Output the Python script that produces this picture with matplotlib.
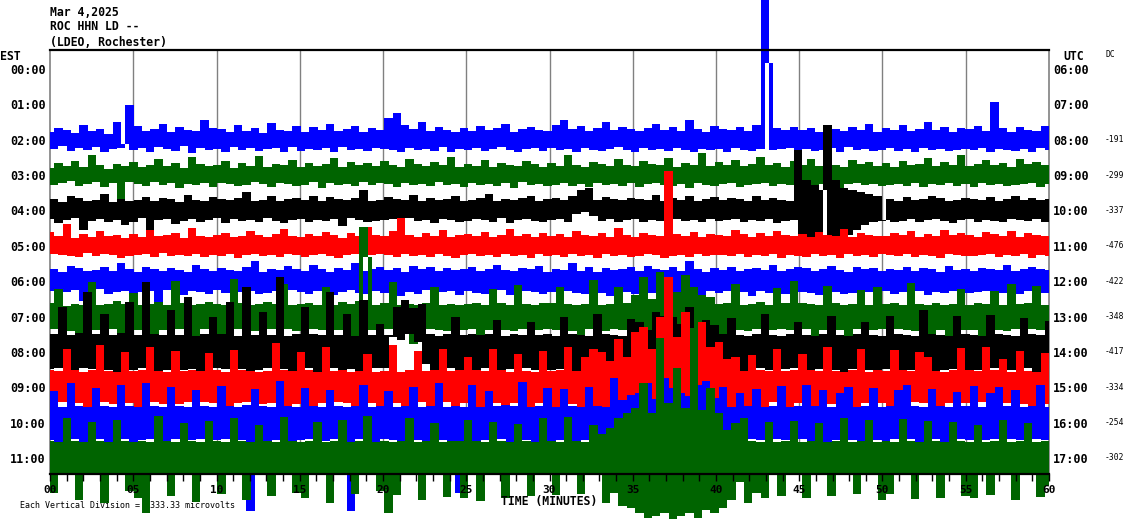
import numpy as np
import matplotlib
matplotlib.use("Agg")
import matplotlib.pyplot as plt
from matplotlib.ticker import MultipleLocator

# ---------------- data ----------------
date_text = "Mar 4,2025"
station_text = "ROC HHN LD --"
network_text = "(LDEO, Rochester)"
est_labels = ["00:00", "01:00", "02:00", "03:00", "04:00", "05:00",
              "06:00", "07:00", "08:00", "09:00", "10:00", "11:00"]
utc_labels = ["06:00", "07:00", "08:00", "09:00", "10:00", "11:00",
              "12:00", "13:00", "14:00", "15:00", "16:00", "17:00"]
minute_labels = ["00", "05", "10", "15", "20", "25", "30",
                 "35", "40", "45", "50", "55", "60"]
dc_rows = [2, 3, 4, 5, 6, 7, 8, 9, 10, 11]
dc_values = [-191, -299, -337, -476, -422, -348, -417, -334, -254, -302]
row_colors = ["black", "red", "blue", "#006400"]  # cycle by hour row
scale_text = "Each Vertical Division =  333.33 microvolts"

# trace samples (amplitude, positive = up), 4 samples per minute
trace_02 = [8,-9,12,-6,10,-11,7,-8,15,-10,9,-7,11,-12,6,-9,18,-8,-4,35,
            -10,14,-8,9,-12,11,-7,16,-9,8,-11,13,-6,10,-13,9,-8,20,-10,12,
            -9,11,-12,8,-7,15,-10,9,-8,12,-11,7,-9,17,-8,10,-12,9,-7,14,
            -11,8,-9,13,-10,10,-8,16,-12,9,-7,11,-10,14,-9,8,-11,12,-8,10,
            -9,22,-10,27,-12,15,-8,11,-10,18,-9,9,-11,13,-7,10,-12,8,-9,12,
            -10,9,-8,14,-11,10,-9,12,-7,16,-10,8,-12,11,-9,13,-8,10,-11,9,
            -8,15,-10,20,-9,11,-12,14,-8,9,-10,12,-11,18,-9,10,-7,13,-10,11,
            -12,9,-8,12,-10,16,-9,10,-11,13,-8,9,-10,20,-12,11,-9,8,-10,14,
            -9,11,-12,10,-8,13,-10,9,-11,15,-9,140,77,-10,12,-9,10,-8,13,-11,
            10,-9,12,-11,8,-10,14,-8,11,-12,9,-7,13,-10,10,-9,16,-11,8,-10,
            12,-8,10,-11,15,-9,9,-12,11,-8,18,-10,10,-9,13,-11,8,-10,12,-9,
            11,-10,14,-8,9,-12,38,-9,12,-10,8,-11,13,-9,10,-12,9,-8,14,-10]
trace_03 = [7,-10,12,-8,9,-6,14,-11,8,-9,20,-7,10,-12,6,-8,11,-25,9,-7,
            13,-9,8,-11,10,-7,16,-10,9,-8,12,-13,7,-9,18,-10,11,-8,9,-12,
            10,-8,14,-9,7,-11,12,-10,9,-7,19,-9,8,-12,11,-8,10,-9,15,-11,
            8,-10,12,-7,9,-13,11,-8,17,-10,8,-9,13,-11,10,-7,12,-10,9,-8,
            14,-9,10,-12,8,-8,16,-10,11,-9,9,-11,13,-7,10,-10,18,-9,8,-12,
            11,-8,9,-10,15,-9,8,-11,12,-8,10,-13,9,-7,14,-10,11,-9,8,-11,
            12,-10,9,-8,20,-11,10,-9,8,-12,13,-8,11,-10,9,-9,16,-11,10,-8,
            9,-12,14,-9,11,-8,10,-10,17,-11,8,-9,12,-13,10,-8,22,-10,9,-11,
            13,-9,10,-8,15,-12,9,-10,11,-9,18,-8,10,-11,12,-9,8,-10,14,-12,
            10,-8,16,-11,9,-9,12,-10,10,-13,8,-9,15,-8,11,-10,13,-9,9,-11,
            12,-10,8,-9,14,-11,10,-8,11,-12,17,-9,9,-10,13,-8,10,-11,20,-9,
            9,-12,11,-8,15,-10,10,-9,12,-11,8,-10,16,-9,11,-8,13,-12,10,-9]
trace_04 = [-9,11,-13,8,-10,14,-8,12,-20,9,-11,10,-9,16,-12,8,-10,11,-15,9,
            -12,10,-8,13,-22,9,-10,12,-9,11,-14,8,-11,15,-9,10,-12,9,-10,13,
            -8,11,-13,10,-9,12,-11,18,-10,9,-12,10,-8,14,-11,9,-13,11,-10,12,
            -9,10,-12,14,-10,9,-11,13,-9,11,-16,10,-8,12,-10,20,-12,9,-11,10,
            -10,13,-9,11,-12,10,-8,15,-11,9,-10,12,-13,10,-9,11,-10,14,-12,9,
            -11,10,-9,12,-10,16,-12,9,-8,11,-13,10,-10,12,-9,14,-11,9,-12,11,
            -10,12,-9,10,-12,14,-4,20,-2,22,-6,10,-11,13,-9,11,-12,10,-10,12,
            -9,11,-12,10,-10,15,-11,9,-13,12,-9,10,-11,14,-10,9,-12,11,-9,13,
            -11,10,-10,12,-9,11,-12,9,-10,14,-11,10,-9,12,-13,10,-11,9,-10,60,
            -25,30,-40,25,-30,20,85,-35,30,-28,22,-25,20,-20,18,-15,16,-12,14,-11,
            -10,11,-12,9,-11,13,-9,10,-12,11,-10,14,-9,12,-11,9,-13,10,-10,12,
            -9,11,-12,10,-10,13,-11,9,-12,11,-9,14,-10,10,-11,12,-9,10,-12,11]
trace_05 = [14,-8,10,-9,22,-10,8,-11,12,-7,9,-10,15,-8,10,-9,11,-12,8,-10,
            12,-9,9,-8,16,-11,10,-7,11,-10,13,-9,8,-10,18,-8,10,-11,9,-9,
            11,-10,13,-8,9,-12,10,-9,15,-8,11,-10,9,-9,12,-11,17,-8,10,-9,
            9,-11,12,-9,10,-8,14,-10,11,-12,8,-9,13,-8,10,-10,19,-9,11,-8,
            10,-9,15,-11,28,-8,11,-10,9,-9,13,-11,10,-8,16,-10,9,-12,11,-9,
            12,-8,10,-10,14,-9,9,-11,11,-8,17,-10,10,-9,12,-12,9,-8,13,-10,
            10,-9,12,-11,9,-8,15,-10,11,-9,10,-12,13,-8,9,-10,18,-9,11,-11,
            9,-10,13,-8,11,-9,10,-12,75,-10,12,-9,10,-11,14,-8,9,-10,12,-9,
            11,-9,10,-10,16,-8,12,-11,9,-9,13,-10,10,-8,15,-12,11,-9,10,-10,
            12,-11,9,-8,14,-10,11,-9,10,-12,17,-8,9,-10,13,-9,11,-11,10,-8,
            10,-9,13,-10,11,-8,15,-11,9,-9,12,-10,10,-12,16,-8,11,-9,13,-10,
            11,-10,9,-9,14,-8,12,-11,10,-9,15,-10,9,-8,13,-12,11,-9,10,-10]
trace_06 = [-10,12,-14,9,-11,15,-9,13,-20,10,-12,11,-8,14,-13,10,-11,18,-10,12,
            -13,9,-11,14,-10,12,-22,10,-9,13,-12,11,-14,9,-10,16,-11,12,-13,10,
            -9,13,-12,11,-15,10,-11,14,-10,20,-13,9,-12,12,-10,11,-14,15,-9,12,
            -11,10,-13,16,-10,12,-12,9,-14,13,-11,11,-9,18,-12,10,-13,12,-10,14,
            -12,11,-10,13,-15,9,-11,15,-13,12,-9,14,-12,10,-11,13,-10,11,-14,12,
            -10,14,-12,10,-13,12,-11,16,-9,11,-14,10,-12,13,-10,12,-11,15,-13,9,
            -11,12,-14,11,-10,18,-12,10,-13,14,-11,9,-12,13,-15,11,-10,12,-11,14,
            -13,10,-11,15,-12,12,-24,11,-10,14,-13,10,-12,20,-11,12,-14,9,-10,13,
            -12,11,-10,14,-13,10,-11,12,-15,13,-10,11,-12,16,-11,10,-13,12,-9,14,
            -11,13,-12,10,-14,12,-10,15,-11,11,-13,9,-12,14,-10,12,-11,13,-14,10,
            -10,12,-13,11,-11,14,-12,10,-10,13,-14,12,-11,9,-12,15,-10,11,-13,12,
            -12,10,-11,13,-10,12,-14,11,-12,16,-11,10,-13,12,-10,14,-11,12,-12,11]
trace_07 = [14,-12,28,-13,11,-14,13,-30,12,-11,35,-13,12,-14,13,-12,16,-33,13,-12,
            24,-13,12,-14,13,-28,15,-13,12,-11,36,-12,14,-13,12,-30,13,-12,15,-13,
            13,-26,12,-13,38,-12,14,-13,12,-14,13,-30,15,-12,13,-13,33,-12,12,-14,
            13,-28,14,-12,12,-13,30,-14,12,-13,15,-12,13,-33,16,90,60,-13,12,-14,
            14,-12,35,-13,12,-14,13,-27,12,-13,14,-12,30,-13,12,-14,13,-35,12,-13,
            13,-12,14,-30,12,-13,28,-12,14,-13,12,-14,32,-12,13,-26,12,-13,14,-12,
            14,-13,30,-12,13,-14,12,-28,13,-12,37,-13,12,-14,13,-12,30,-13,14,-12,
            22,-17,40,-20,18,-35,45,-16,20,-38,25,-14,42,-22,30,-15,22,-40,20,-14,
            13,-28,14,-12,33,-13,12,-14,13,-12,15,-32,12,-13,29,-12,14,-13,36,-12,
            14,-12,13,-25,12,-13,31,-12,14,-13,12,-30,13,-12,27,-14,12,-13,30,-12,
            13,-27,14,-12,12,-13,34,-14,13,-12,12,-28,14,-13,12,-33,13,-12,28,-13,
            12,-13,14,-30,13,-12,26,-13,12,-14,33,-12,13,-28,14,-12,31,-13,12,-14]
trace_08 = [-17,18,-16,45,-18,17,-30,19,-16,60,-17,18,-16,38,-18,17,-35,19,-16,50,
            -18,17,-16,70,-17,18,-30,17,-18,42,-16,17,-18,55,-17,16,-38,18,-17,35,
            -16,18,-17,50,-18,16,-17,65,-35,17,-18,40,-16,17,-18,75,-17,16,-33,18,
            -17,45,-16,18,-30,17,-18,60,-16,17,-18,38,-17,16,-35,52,-18,17,-16,28,
            -16,17,15,45,12,52,18,44,10,48,-12,18,-30,16,-17,18,-16,35,-18,17,
            -17,18,-30,17,-16,18,-17,32,-18,16,-17,18,-35,17,-16,30,-18,17,-16,18,
            -18,16,-17,35,-16,18,-28,17,-18,16,-17,38,-16,18,-30,17,-18,16,-17,33,
            -20,30,-38,22,-24,40,-17,36,-42,35,-19,28,-25,45,-30,24,-21,32,-35,27,
            -17,18,-16,34,-18,17,-30,16,-17,18,-16,38,-18,17,-32,16,-17,18,-16,30,
            -18,17,-28,16,-17,18,-16,36,-18,17,-33,16,-17,18,-16,30,-18,17,-30,16,
            -17,36,-16,18,-30,17,-18,16,-17,42,-16,18,-31,17,-18,16,-17,36,-16,18,
            -30,17,-18,16,-17,37,-16,18,-32,17,-18,16,-17,34,-16,18,-30,17,-18,31]
trace_09 = [17,-30,16,-15,38,-16,17,-16,15,-35,17,-16,42,-15,16,-17,15,-28,35,-16,
            16,-33,17,-16,40,-15,16,-17,15,-16,36,-17,16,-15,17,-38,16,-15,34,-16,
            17,-16,15,-29,37,-16,17,-15,16,-35,15,-17,16,-16,44,-15,17,-31,16,-17,
            35,-16,17,-32,15,-16,40,-17,16,-15,17,-16,15,-36,16,-17,33,-16,15,-28,
            16,-17,42,-16,15,-33,17,-16,36,-15,16,-30,17,-16,38,-15,16,-34,17,-16,
            30,-16,17,-35,16,-15,38,-16,17,-30,15,-16,33,-17,16,-38,15,-16,36,-17,
            16,-32,17,-16,40,-17,16,-30,30,-19,38,-23,35,-28,26,-25,48,-22,30,-38,
            55,-30,60,-45,38,-50,70,-32,110,-90,50,-38,75,-30,42,-55,65,-28,40,-42,
            45,-25,28,-35,30,-17,16,-34,32,-16,17,-30,16,-15,38,-17,16,-32,17,-16,
            33,-16,17,-30,16,-15,40,-17,16,-33,15,-16,17,-29,38,-16,15,-35,17,-16,
            16,-31,37,-16,17,-28,16,-15,35,-16,30,-17,16,-36,15,-16,17,-30,39,-16,
            17,-30,16,-15,40,-16,17,-33,28,-16,15,-29,36,-17,16,-31,15,-16,34,-17]
trace_10 = [-17,32,-38,16,-17,40,-16,17,-42,16,-18,35,-16,17,-45,16,-17,38,-16,17,
            -35,16,-17,40,-16,17,-40,16,-18,36,-16,17,-44,16,-17,33,-16,17,-38,16,
            -17,37,-16,17,-40,16,-17,18,-88,34,-16,17,-36,16,-17,42,-16,17,-39,16,
            -17,35,-16,17,-42,16,-18,33,-16,17,-37,16,-88,17,-16,38,-17,16,-40,17,
            -16,32,-17,16,-45,17,-16,36,-17,16,-38,17,-16,40,-17,16,-33,17,-70,16,
            -17,38,-35,16,-17,32,-40,17,-16,18,-36,17,-16,41,-17,16,-34,17,-16,35,
            -37,16,-17,34,-16,17,-42,16,-17,36,-16,17,-38,16,-17,45,-30,23,-40,28,
            -45,30,-35,40,-50,24,-38,45,-26,35,-55,30,-40,27,-48,38,-30,42,-45,25,
            -17,36,-38,16,-17,30,-40,17,-16,34,-17,16,-39,17,-16,37,-17,16,-42,17,
            -16,38,-35,17,-16,33,-40,16,-17,30,-16,36,-17,16,-38,17,-16,35,-17,16,
            -36,17,-16,33,-17,38,-16,17,-41,16,-17,34,-16,17,-37,16,-17,31,-16,17,
            -17,37,-38,16,-17,30,-16,36,-40,17,-16,33,-17,16,-35,17,-16,38,-17,16]
trace_11 = [17,-35,16,-17,40,-16,17,-42,16,-17,36,-16,17,-45,16,-17,38,-16,17,-33,
            16,-40,17,-55,16,-17,42,-16,17,-38,16,-17,35,-16,17,-44,16,-17,37,-16,
            17,-36,16,-17,40,-16,17,-42,16,-17,33,-16,17,-38,16,-17,41,-16,17,-35,
            16,-40,17,-16,36,-17,16,-45,17,-16,38,-17,16,-36,17,-16,42,-17,16,-33,
            17,-55,16,-37,17,-16,40,-17,16,-42,17,-16,35,-17,16,-39,17,-16,17,-40,
            38,-16,17,-43,16,-17,36,-16,17,-40,16,-17,34,-16,17,-38,16,-17,40,-16,
            17,-37,16,-17,41,-16,17,-36,16,-17,33,-16,24,-45,30,-35,40,-48,45,-50,
            50,-55,75,-60,45,-58,120,-55,55,-62,90,-58,50,-55,130,-60,48,-52,70,-55,
            45,-50,28,-42,35,-24,40,-45,17,-35,16,-40,36,-17,16,-38,17,-16,37,-17,
            16,-40,17,-16,35,-17,16,-38,17,-16,40,-17,16,-36,17,-16,38,-17,16,-42,
            17,-36,16,-17,39,-16,17,-41,16,-17,37,-16,17,-40,16,-17,36,-16,17,-38,
            16,-40,33,-17,16,-37,17,-16,38,-17,16,-42,17,-16,35,-17,16,-39,17,-28]

traces = {2: trace_02, 3: trace_03, 4: trace_04, 5: trace_05, 6: trace_06,
          7: trace_07, 8: trace_08, 9: trace_09, 10: trace_10, 11: trace_11}

# ---------------- figure ----------------
W, H = 1130, 519
fig = plt.figure(figsize=(W / 100, H / 100), dpi=100)
ax_l, ax_r, ax_t, ax_b = 50, 1049, 50, 474
ax = fig.add_axes([ax_l / W, 1 - ax_b / H, (ax_r - ax_l) / W, (ax_b - ax_t) / H])

row_px = 35.36                      # pixels per hour row
top_row = (ax_t - 69) / row_px
bot_row = (ax_b - 69) / row_px
ax.set_xlim(0, 60)
ax.set_ylim(bot_row, top_row)

mono = "DejaVu Sans Mono"

# grid lines every 5 minutes
for m in range(5, 60, 5):
    ax.axvline(m, color="#808080", lw=1.0, zorder=1)

# each trace drawn helicorder-style: a vertical stroke per interval spanning
# the range swept between consecutive samples
for row, vals in traces.items():
    v = np.asarray(vals, dtype=float)
    step = 60.0 / (len(v) - 1)
    t = np.arange(len(v)) * step
    lo = np.minimum(v[:-1], v[1:])
    hi = np.maximum(v[:-1], v[1:])
    xm = (t[:-1] + t[1:]) / 2
    ax.bar(xm, (hi - lo) / row_px, bottom=row - hi / row_px, width=step,
           color=row_colors[row % 4], linewidth=0, antialiased=False,
           clip_on=False, zorder=3)

# spines
for s in ("top", "bottom"):
    ax.spines[s].set_color("black")
    ax.spines[s].set_linewidth(1.6)
    ax.spines[s].set_zorder(4)
for s in ("left", "right"):
    ax.spines[s].set_color("#808080")
    ax.spines[s].set_linewidth(1.2)

# x ticks (kept above the traces that swing below the axis)
ax.set_xticks(range(0, 61, 5))
ax.set_xticklabels(minute_labels, fontfamily=mono, fontweight="bold", fontsize=8)
ax.xaxis.set_minor_locator(MultipleLocator(1))
ax.tick_params(axis="x", which="both", direction="out", length=5, width=1,
               color="black", pad=3)
ax.set_xlabel("TIME (MINUTES)", fontfamily=mono, fontweight="bold",
              fontsize=8.3, labelpad=0)
ax.xaxis.set_zorder(5)

# y labels (EST left, UTC right)
ax.set_yticks(range(12))
ax.set_yticklabels(est_labels, fontfamily=mono, fontweight="bold", fontsize=8.5)
ax.tick_params(axis="y", length=0, pad=3)
ax2 = ax.twinx()
ax2.set_ylim(ax.get_ylim())
ax2.set_yticks(range(12))
ax2.set_yticklabels(utc_labels, fontfamily=mono, fontweight="bold", fontsize=8.5)
ax2.tick_params(axis="y", length=0, pad=3)
for s in ax2.spines.values():
    s.set_visible(False)

# DC values
for r, val in zip(dc_rows, dc_values):
    ax.text(1.056, r, str(val), transform=ax.get_yaxis_transform(),
            fontfamily=mono, fontsize=5.8, va="center", ha="left")

def ftext(x, y, s, **kw):
    fig.text(x / W, 1 - y / H, s, fontfamily=mono, **kw)

ftext(50, 12, date_text, fontweight="bold", fontsize=8.3, va="center")
ftext(50, 27, station_text, fontweight="bold", fontsize=8.3, va="center")
ftext(50, 42, network_text, fontweight="bold", fontsize=8.3, va="center")
ftext(0, 56, "EST", fontweight="bold", fontsize=8.3, va="center")
ftext(1063, 56, "UTC", fontweight="bold", fontsize=8.3, va="center")
ftext(1105, 54, "DC", fontsize=5.8, va="center")
ftext(20, 506, scale_text, fontsize=6, va="center")

fig.savefig("out.png", dpi=100)
